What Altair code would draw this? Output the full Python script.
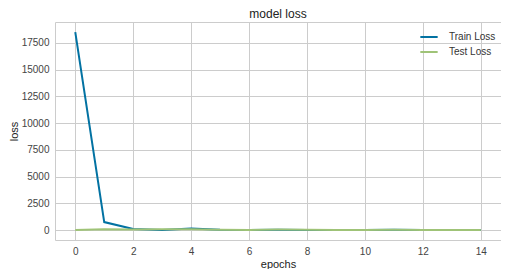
import altair as alt
import pandas as pd

epochs = list(range(15))
train_loss = [18500, 750, 100, 20, 150, 30, 20, 40, 15, 20, 15, 30, 15, 15, 10]
test_loss = [20, 90, 60, 80, 70, 30, 20, 50, 25, 20, 15, 25, 20, 15, 10]
series = ["Train Loss", "Test Loss"]
colors = ["#0272a2", "#9fc377"]

df = pd.concat([
    pd.DataFrame({"epochs": epochs, "loss": train_loss, "series": series[0]}),
    pd.DataFrame({"epochs": epochs, "loss": test_loss, "series": series[1]}),
])

font = "Liberation Sans"

chart = alt.Chart(df).mark_line(strokeWidth=2).encode(
    x=alt.X("epochs:Q", title="epochs",
            scale=alt.Scale(domain=[-0.7, 14.7], nice=False, zero=False),
            axis=alt.Axis(values=list(range(0, 15, 2)), format="d")),
    y=alt.Y("loss:Q", title="loss",
            scale=alt.Scale(domain=[-926, 19446], nice=False, zero=False),
            axis=alt.Axis(values=list(range(0, 17501, 2500)), format="d")),
    color=alt.Color("series:N", sort=series,
                    scale=alt.Scale(domain=series, range=colors),
                    legend=alt.Legend(title=None, orient="none", legendX=364, legendY=5,
                                      symbolType="stroke", symbolStrokeWidth=2,
                                      symbolSize=300, labelFontSize=10,
                                      labelFont=font, labelColor="#333333",
                                      rowPadding=-1, labelOffset=10)),
).properties(
    width=446, height=218,
    title=alt.Title("model loss", font=font, fontSize=12, fontWeight="normal",
                    color="#222222", offset=1),
    padding={"left": 0, "top": 0, "right": 0, "bottom": 0},
).configure_view(
    stroke="#cccccc", strokeWidth=1
).configure_axis(
    grid=True, gridColor="#cccccc", gridWidth=1, domain=False, ticks=False,
    labelFont=font, labelFontSize=10, labelColor="#444444", labelPadding=6,
    titleFont=font, titleFontSize=11, titleFontWeight="normal", titleColor="#222222",
    titlePadding=2,
)

chart.save("out.html", embed_options={"renderer": "svg", "actions": False})
